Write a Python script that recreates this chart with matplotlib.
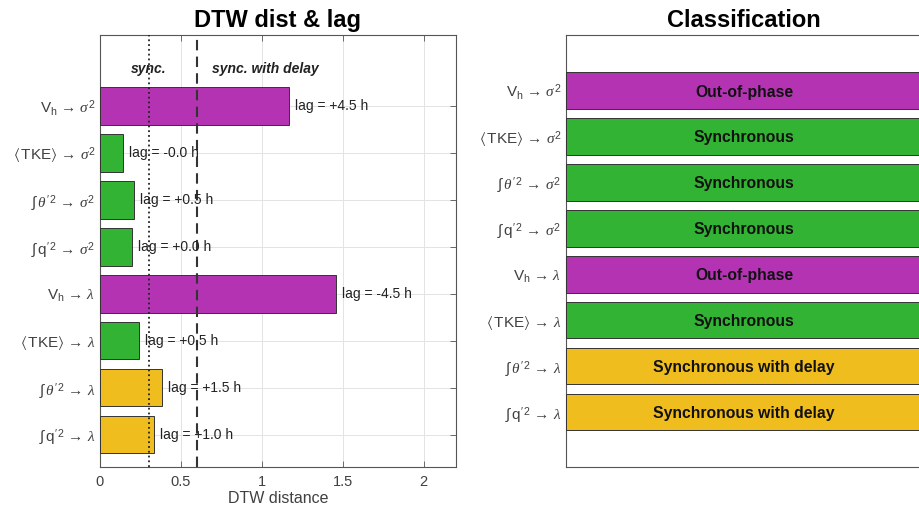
import matplotlib
matplotlib.use("Agg")
import matplotlib.pyplot as plt

plt.rcParams['font.family'] = ['Liberation Sans', 'DejaVu Sans']
plt.rcParams['mathtext.fontset'] = 'custom'
plt.rcParams['mathtext.rm'] = 'Liberation Sans'
plt.rcParams['mathtext.it'] = 'Liberation Serif:italic'
plt.rcParams['mathtext.sf'] = 'Liberation Sans'
plt.rcParams['mathtext.fallback'] = 'stix'

# pares forzante -> respuesta, de arriba abajo
labels = [
    r'$\mathrm{V_h}\,\rightarrow\,\sigma^2$',
    r'$\langle\,\mathrm{TKE}\rangle\,\rightarrow\,\sigma^2$',
    r'$\int\,\theta^{\prime\,2}\,\rightarrow\,\sigma^2$',
    r'$\int\,\mathrm{q}^{\prime\,2}\,\rightarrow\,\sigma^2$',
    r'$\mathrm{V_h}\,\rightarrow\,\lambda$',
    r'$\langle\,\mathrm{TKE}\rangle\,\rightarrow\,\lambda$',
    r'$\int\,\theta^{\prime\,2}\,\rightarrow\,\lambda$',
    r'$\int\,\mathrm{q}^{\prime\,2}\,\rightarrow\,\lambda$',
]
dtw_dist = [1.166, 0.142, 0.208, 0.198, 1.459, 0.241, 0.381, 0.334]
lag_h = [4.5, -0.0, 0.5, 0.0, -4.5, 0.5, 1.5, 1.0]
clase = ['Out-of-phase', 'Synchronous', 'Synchronous', 'Synchronous',
         'Out-of-phase', 'Synchronous', 'Synchronous with delay',
         'Synchronous with delay']

umbral_sync = 0.3
umbral_delay = 0.6

colores = {
    'Out-of-phase': (0.70, 0.20, 0.70),
    'Synchronous': (0.20, 0.70, 0.20),
    'Synchronous with delay': (0.94, 0.74, 0.12),
}
gris = '#404040'

n = len(labels)
pos = [n - i for i in range(n)]
cols = [colores[c] for c in clase]

fig = plt.figure(figsize=(9.2, 5.11), dpi=100)
W, H = 920, 511
ax1 = fig.add_axes([100 / W, 1 - 467 / H, 356 / W, 431.5 / H])
ax2 = fig.add_axes([566 / W, 1 - 467 / H, 356 / W, 431.5 / H])


def estilo(ax):
    for s in ax.spines.values():
        s.set_color('#555555')
        s.set_linewidth(0.8)
    ax.tick_params(direction='in', length=4, width=0.6, color='#555555',
                   labelcolor=gris, top=True, right=True, labelsize=10.5)
    ax.tick_params(axis='x', pad=6)
    ax.set_yticks(pos)
    ax.set_yticklabels(labels, fontsize=11)


# panel izquierdo: distancia DTW con lag
ax1.barh(pos, dtw_dist, height=0.8, color=cols, edgecolor='#333333',
         linewidth=0.7, zorder=3)
ax1.axvline(umbral_sync, color='#222222', ls=':', lw=1.3, zorder=4)
ax1.axvline(umbral_delay, color='#333333', ls=(0, (5, 3)), lw=1.5, zorder=4)
for p, d, lg in zip(pos, dtw_dist, lag_h):
    ax1.annotate(f'lag = {lg:+.1f} h', (d, p), xytext=(4.5, 0),
                 textcoords='offset points', va='center', ha='left',
                 fontsize=10, color='#222222', zorder=5)
ax1.text(umbral_sync, 8.78, 'sync.', ha='center', va='center', fontsize=10,
         fontweight='bold', fontstyle='italic', color='#222222')
ax1.text(0.695, 8.78, 'sync. with delay', ha='left', va='center', fontsize=10,
         fontweight='bold', fontstyle='italic', color='#222222')
ax1.set_xlim(0, 2.2)
ax1.set_ylim(0.31, 9.5)
ax1.set_xticks([0, 0.5, 1, 1.5, 2])
ax1.set_xticklabels(['0', '0.5', '1', '1.5', '2'])
ax1.grid(True, color='#e3e3e3', lw=0.7, zorder=0)
estilo(ax1)
ax1.set_xlabel('DTW distance', fontsize=11.5, color=gris, labelpad=1)
ax1.set_title('DTW dist & lag', fontsize=17, fontweight='bold', pad=6)

# panel derecho: clasificacion
ax2.barh(pos, [1] * n, height=0.8, color=cols, edgecolor='#333333',
         linewidth=0.7, zorder=3)
for p, c in zip(pos, clase):
    ax2.text(0.5, p, c, ha='center', va='center_baseline', fontsize=11.3,
             fontweight='bold', color='#111111', zorder=5)
ax2.set_xlim(0, 1)
ax2.set_ylim(-0.2, 9.2)
estilo(ax2)
ax2.set_xticks([])
ax2.set_title('Classification', fontsize=17, fontweight='bold', pad=6)

fig.savefig('out.png', dpi=100)
